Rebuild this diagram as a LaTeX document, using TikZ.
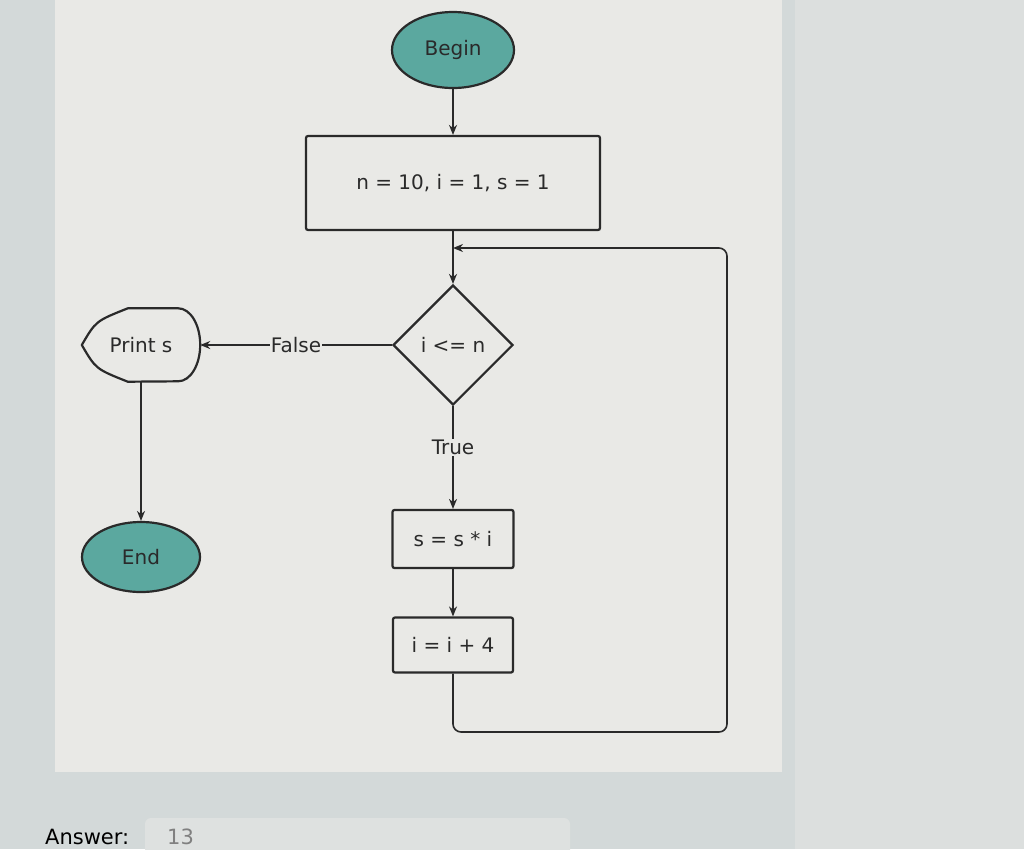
\documentclass[tikz,border=0pt]{standalone}
\usepackage{fontspec}
\setmainfont{DejaVu Sans}
\usetikzlibrary{arrows.meta,shapes.geometric}
\definecolor{outerbg}{HTML}{D3D9D9}
\definecolor{rightbg}{HTML}{DCDFDE}
\definecolor{panelbg}{HTML}{E9E9E6}
\definecolor{ansbg}{HTML}{DEE1E0}
\definecolor{teal}{HTML}{5BA89F}
\definecolor{ink}{HTML}{2A2A2A}
\tikzset{
  txt/.style={font=\fontsize{20}{24}\selectfont, text=ink},
  conn/.style={draw=ink, line width=1.6pt},
  arr/.style={conn, -{Stealth[length=10pt,width=8pt]}},
  procbox/.style={draw=ink, line width=2.2pt, rounded corners=2pt, fill=panelbg, txt, inner sep=0pt},
  term/.style={ellipse, draw=ink, line width=2.2pt, fill=teal, txt, inner sep=0pt},
  lbl/.style={fill=panelbg, txt, inner sep=1pt}
}
\begin{document}
\begin{tikzpicture}[x=1pt,y=-1pt]
\useasboundingbox (0,0) rectangle (1024,849);
% backgrounds
\fill[outerbg] (0,0) rectangle (1024,849);
\fill[rightbg] (795,0) rectangle (1024,849);
\fill[panelbg] (55,0) rectangle (782,772);
\fill[ansbg, rounded corners=6pt] (145,818) rectangle (570,860);
\node[anchor=base west, font=\fontsize{21}{25}\selectfont, text=black, inner sep=0pt] (anslbl) at (45,844) {Answer:};
\node[anchor=base west, font=\fontsize{21}{25}\selectfont, text=gray, inner sep=0pt] (ansval) at (167,844) {13};

% nodes
\node[term, minimum width=122pt, minimum height=76pt] (begin) at (453,50) {Begin};
\node[procbox, minimum width=294pt, minimum height=94pt] (init) at (453,183) {n = 10, i = 1, s = 1};
\node[diamond, draw=ink, line width=2.2pt, fill=panelbg, minimum width=120pt, minimum height=120pt, inner sep=0pt, txt] (cond) at (453,345) {i <= n};
\node[procbox, minimum width=121pt, minimum height=58pt] (mul) at (453,539) {s = s * i};
\node[procbox, minimum width=120pt, minimum height=55pt] (inc) at (453,645) {i = i + 4};
\node[minimum width=118pt, minimum height=73pt, inner sep=0pt, txt] (print) at (141,345) {Print s};
\draw[ink, line width=2.2pt, line join=round]
  (print.west) .. controls ([xshift=14pt,yshift=24pt]print.west) .. ([xshift=46pt]print.north west)
  -- ([xshift=-22pt]print.north east)
  arc[start angle=90, end angle=-90, x radius=22pt, y radius=36.5pt]
  -- ([xshift=46pt]print.south west)
  .. controls ([xshift=14pt,yshift=-24pt]print.west) .. (print.west) -- cycle;
\node[term, minimum width=118pt, minimum height=70pt] (endn) at (141,557) {End};

% connectors
\draw[arr] (begin) -- (init);
\draw[arr] (init) -- (cond);
\draw[arr] (cond.west) -- node[lbl, pos=0.5] (flbl) {False} (print.east);
\draw[arr] (print.south) -- (endn.north);
\draw[arr] (cond.south) -- node[lbl, pos=0.4] (tlbl) {True} (mul.north);
\draw[arr] (mul) -- (inc);
\coordinate (loopa) at (453,732);
\coordinate (loopb) at (727,732);
\coordinate (loopc) at (727,248);
\coordinate (loopd) at (453,248);
\draw[arr, rounded corners=8pt] (inc.south) -- (loopa) -- (loopb) -- (loopc) -- (loopd);
\end{tikzpicture}
\end{document}
